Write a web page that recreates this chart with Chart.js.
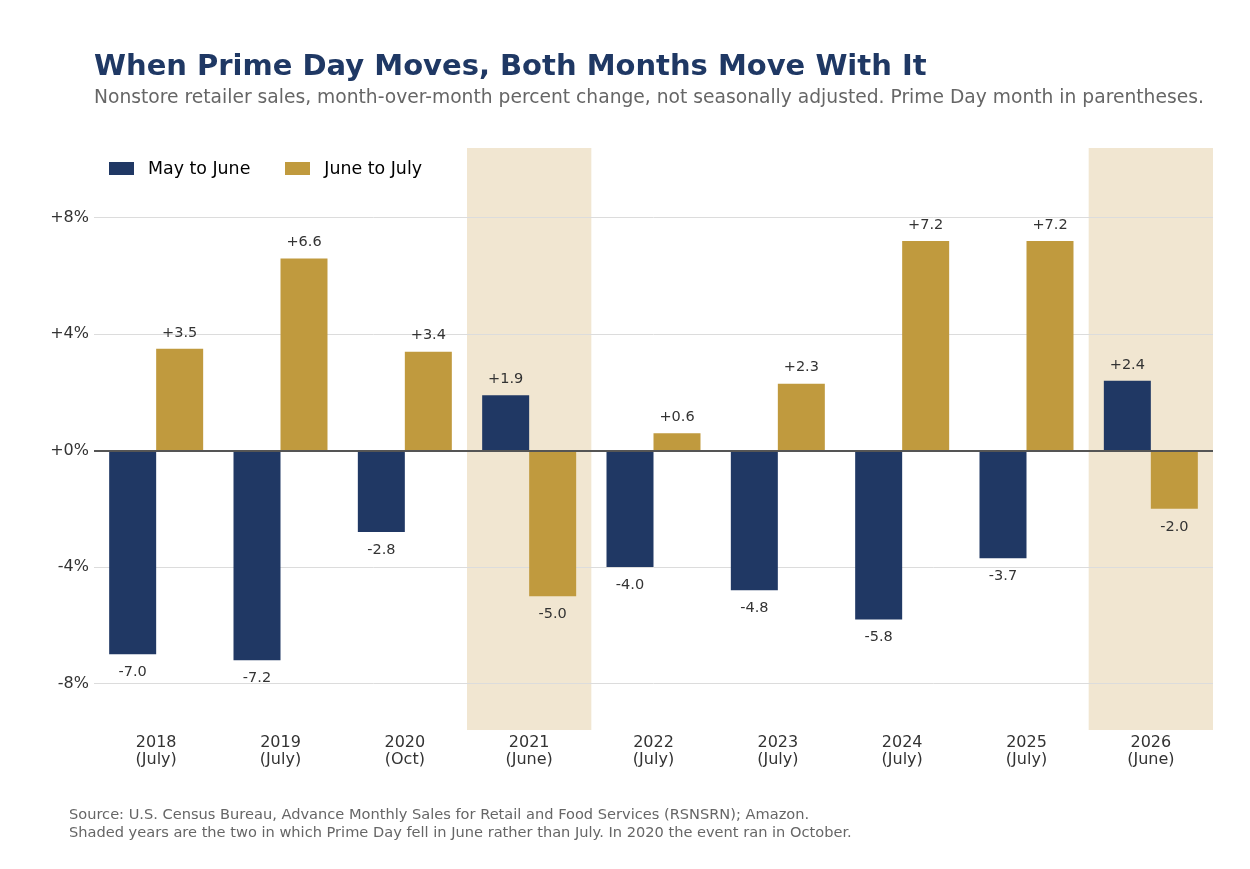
<!DOCTYPE html>
<html>
<head>
<meta charset="utf-8">
<script src="https://cdn.jsdelivr.net/npm/chart.js@4"></script>
<style>
  html, body { margin:0; padding:0; background:#fff; }
  body { width:1250px; height:869px; position:relative; overflow:hidden; font-family:"DejaVu Sans", sans-serif; }
  #title { position:absolute; left:94px; top:48px; font-size:29px; font-weight:bold; color:#1f3864; white-space:nowrap; }
  #subtitle { position:absolute; left:94px; top:86px; font-size:18.7px; color:#666; white-space:nowrap; }
  #legend { position:absolute; left:109px; top:158px; font-size:17.4px; color:#000; display:flex; }
  #legend .item { display:flex; align-items:center; margin-right:35px; }
  #legend .box { width:25px; height:13px; margin-right:14px; }
  #footer { position:absolute; left:69px; top:805px; font-size:14.6px; color:#666; line-height:18px; }
  #wrap { position:absolute; left:0; top:0; width:1250px; height:869px; }
</style>
</head>
<body>
<div id="wrap"><canvas id="chart"></canvas></div>
<div id="title">When Prime Day Moves, Both Months Move With It</div>
<div id="subtitle">Nonstore retailer sales, month-over-month percent change, not seasonally adjusted. Prime Day month in parentheses.</div>
<div id="legend"></div>
<div id="footer">Source: U.S. Census Bureau, Advance Monthly Sales for Retail and Food Services (RSNSRN); Amazon.<br>Shaded years are the two in which Prime Day fell in June rather than July. In 2020 the event ran in October.</div>
<script>
// data
const years = ['2018','2019','2020','2021','2022','2023','2024','2025','2026'];
const primeMonths = ['(July)','(July)','(Oct)','(June)','(July)','(July)','(July)','(July)','(June)'];
const mayToJune = [-7.0, -7.2, -2.8, 1.9, -4.0, -4.8, -5.8, -3.7, 2.4];
const juneToJuly = [3.5, 6.6, 3.4, -5.0, 0.6, 2.3, 7.2, 7.2, -2.0];
const shadedYears = ['2021','2026'];
const yTicks = [-8, -4, 0, 4, 8];

const NAVY = '#203864', GOLD = '#c09a3e', SHADE = '#f1e6d1';

// shaded background bands behind June years
const shadePlugin = {
  id: 'shade',
  beforeDraw(chart) {
    const {ctx, chartArea, scales:{x}} = chart;
    const w = x.width / years.length;
    ctx.save();
    ctx.fillStyle = SHADE;
    shadedYears.forEach(y => {
      const i = years.indexOf(y);
      const cx = x.getPixelForValue(i);
      ctx.fillRect(cx - w/2, chartArea.top, w, chartArea.bottom - chartArea.top);
    });
    ctx.restore();
  }
};

// zero line + value labels
const labelPlugin = {
  id: 'labels',
  afterDatasetsDraw(chart) {
    const {ctx, chartArea, scales:{y}} = chart;
    const y0 = Math.round(y.getPixelForValue(0));
    ctx.save();
    ctx.strokeStyle = '#555';
    ctx.lineWidth = 2;
    ctx.beginPath(); ctx.moveTo(chartArea.left, y0); ctx.lineTo(chartArea.right, y0); ctx.stroke();
    ctx.font = '14.5px "DejaVu Sans"';
    ctx.fillStyle = '#333';
    ctx.textAlign = 'center';
    ctx.textBaseline = 'middle';
    chart.data.datasets.forEach((ds, di) => {
      chart.getDatasetMeta(di).data.forEach((bar, i) => {
        const v = ds.data[i];
        const txt = (v > 0 ? '+' : '') + v.toFixed(1);
        const ty = v >= 0 ? bar.y - 16 : bar.y + 18;
        ctx.fillText(txt, bar.x, ty);
      });
    });
    ctx.restore();
  }
};

const chart = new Chart(document.getElementById('chart'), {
  type: 'bar',
  data: {
    labels: years.map((y, i) => [y, primeMonths[i]]),
    datasets: [
      { label:'May to June', data: mayToJune, backgroundColor: NAVY },
      { label:'June to July', data: juneToJuly, backgroundColor: GOLD }
    ]
  },
  options: {
    responsive:true, maintainAspectRatio:false, animation:false,
    layout: { padding: { top:148, right:37, left:0, bottom:0 } },
    datasets: { bar: { barPercentage:1, categoryPercentage:0.756 } },
    plugins: { legend:{display:false}, tooltip:{enabled:false} },
    scales: {
      x: {
        grid:{display:false, drawTicks:false}, border:{display:false},
        ticks:{ color:'#333', font:{family:'DejaVu Sans', size:16, lineHeight:1.07}, padding:4, maxRotation:0 },
        afterFit(s) { s.height = 869 - 730; }
      },
      y: {
        min:-9.6, max:10.4,
        afterBuildTicks(s) { s.ticks = yTicks.map(v => ({value:v})); },
        grid:{ color:'#dcdcdc', lineWidth:1, drawTicks:false },
        border:{display:false},
        ticks:{ color:'#333', font:{family:'DejaVu Sans', size:16}, padding:5,
          callback: v => (v >= 0 ? '+' : '') + v + '%' },
        afterFit(s) { s.width = 94; }
      }
    }
  },
  plugins: [shadePlugin, labelPlugin]
});

// html legend from datasets
const leg = document.getElementById('legend');
chart.data.datasets.forEach(ds => {
  const it = document.createElement('div'); it.className = 'item';
  const b = document.createElement('span'); b.className = 'box'; b.style.background = ds.backgroundColor;
  const t = document.createElement('span'); t.textContent = ds.label;
  it.appendChild(b); it.appendChild(t); leg.appendChild(it);
});
</script>
</body>
</html>
